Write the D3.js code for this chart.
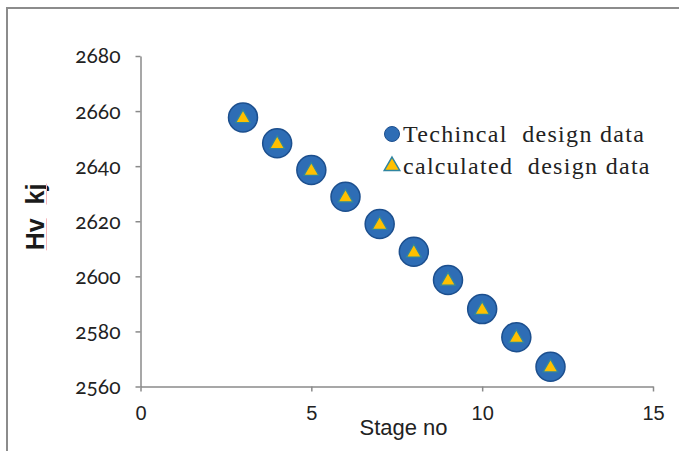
<!DOCTYPE html>
<html><head><meta charset="utf-8">
<script src="https://cdn.jsdelivr.net/npm/d3@7"></script>
<style>
html,body{margin:0;padding:0;background:#fff;}
svg{display:block;}
.ytick{font-family:Lato,sans-serif;font-size:21px;font-feature-settings:"onum" 1;font-variant-numeric:oldstyle-nums;}
</style></head>
<body>
<svg id="chart" width="679" height="451"></svg>
<script>
const stages = [3,4,5,6,7,8,9,10,11,12];
const technicalHv = [2657.7,2648.3,2638.6,2628.9,2619.0,2608.9,2598.7,2588.1,2577.9,2567.2];
const calculatedHv = [2657.7,2648.3,2638.6,2628.9,2619.0,2608.9,2598.7,2588.1,2577.9,2567.2];
const xTicks = [0,5,10,15];
const yTicks = [2560,2580,2600,2620,2640,2660,2680];
const seriesNames = ["Techincal  design data","calculated  design data"];
const yTitleParts = ["Hv","kj"];

const svg = d3.select("#chart");
const x = d3.scaleLinear().domain([0,15]).range([140.5,653]);
const y = d3.scaleLinear().domain([2560,2680]).range([386.5,56]);
const axisColor = "#8a8a8a";

// frame
svg.append("path").attr("d","M7,452 L7,8 L680,8").attr("fill","none")
  .attr("stroke","#8c8c8c").attr("stroke-width",2);

// x axis
const gx = svg.append("g").attr("transform",`translate(0,${y(2560)})`)
  .call(d3.axisBottom(x).tickValues(xTicks).tickSize(5).tickSizeOuter(0).tickFormat(d3.format("d")));
gx.select(".domain").attr("stroke",axisColor).attr("stroke-width",1.5);
gx.selectAll(".tick line").attr("stroke",axisColor).attr("stroke-width",1.5);
gx.selectAll(".tick text").style("font-family","'Liberation Sans', Arial, sans-serif")
  .style("font-size","20px").attr("fill","#222").attr("y",15).attr("dy","0.9em");

// y axis
const gy = svg.append("g").attr("transform",`translate(${x(0)},0)`)
  .call(d3.axisLeft(y).tickValues(yTicks).tickSize(5).tickSizeOuter(0).tickFormat(d3.format("d")));
gy.attr("font-family",null).attr("font-size",null);
gy.select(".domain").attr("stroke",axisColor).attr("stroke-width",1.5);
gy.selectAll(".tick line").attr("stroke",axisColor).attr("stroke-width",1.5);
gy.selectAll(".tick text").attr("class","ytick").attr("fill","#222").attr("x",-20).attr("dy","0.33em");

// axis titles
svg.append("text").attr("x",403.5).attr("y",435).attr("text-anchor","middle")
  .style("font-family","'Liberation Sans', Arial, sans-serif").style("font-size","22px").attr("fill","#222")
  .text("Stage no");
const yt = svg.append("text").attr("transform","translate(43.5,217) rotate(-90)").attr("text-anchor","middle")
  .style("font-family","'Liberation Sans', Arial, sans-serif").style("font-size","25px").style("font-weight","bold")
  .attr("fill","#1a1a1a").style("white-space","pre").text(yTitleParts.join("  "));
// spell-check marks under the title words
const ytBox = yt.node().getBBox();
const hvLen = yt.node().getSubStringLength(0,2), kjLen = yt.node().getSubStringLength(4,2);
const startY = 217 + ytBox.width/2;
svg.append("line").attr("x1",46.5).attr("x2",46.5).attr("y1",startY).attr("y2",startY-hvLen)
  .attr("stroke","#f5b5bb").attr("stroke-width",1);
svg.append("line").attr("x1",46.5).attr("x2",46.5).attr("y1",startY-ytBox.width+kjLen).attr("y2",startY-ytBox.width)
  .attr("stroke","#f5b5bb").attr("stroke-width",1);

const tri = d3.symbol().type(d3.symbolTriangle).size(95);
const triL = d3.symbol().type(d3.symbolTriangle).size(105);

// series 1 circles
svg.append("g").selectAll("circle").data(stages).join("circle")
  .attr("cx",(d)=>x(d)).attr("cy",(d,i)=>y(technicalHv[i])).attr("r",14.5)
  .attr("fill","#2E6DB5").attr("stroke","#1C4F8E").attr("stroke-width",1.5);
// series 2 triangles
svg.append("g").selectAll("path").data(stages).join("path")
  .attr("d",tri).attr("transform",(d,i)=>`translate(${x(d)},${y(calculatedHv[i])+1})`)
  .attr("fill","#FFC000").attr("stroke","#2F85A0").attr("stroke-width",1.3);

// legend
const lg = svg.append("g");
lg.append("circle").attr("cx",392).attr("cy",134).attr("r",7.5).attr("fill","#2E6DB5").attr("stroke","#1C4F8E").attr("stroke-width",1);
lg.append("path").attr("d",triL).attr("transform","translate(392,166)").attr("fill","#FFC000").attr("stroke","#2F85A0").attr("stroke-width",1.5);
lg.append("text").attr("x",403).attr("y",142).style("font-family","'Liberation Serif', serif")
  .style("font-size","24px").style("letter-spacing","1.3px").attr("fill","#222").style("white-space","pre").text(seriesNames[0]);
lg.append("text").attr("x",403).attr("y",174).style("font-family","'Liberation Serif', serif")
  .style("font-size","24px").style("letter-spacing","1.3px").attr("fill","#222").style("white-space","pre").text(seriesNames[1]);
</script>
</body></html>
